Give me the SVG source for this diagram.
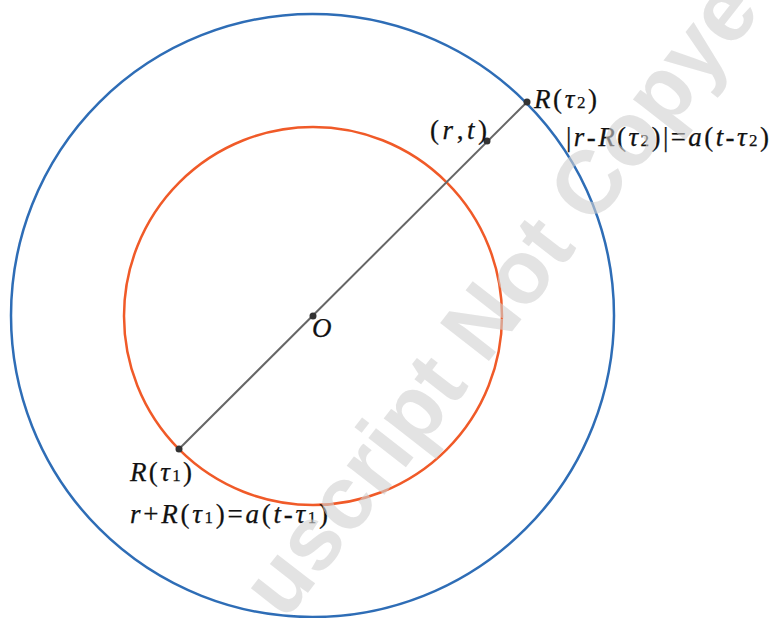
<svg xmlns="http://www.w3.org/2000/svg" width="771" height="618" viewBox="0 0 771 618">
<style>
  text.lbl { font-size: 27px; fill: #111111; stroke: #111111; stroke-width: 0.25px; }
  tspan.it, text.it { font-style: italic; }
  tspan.sub { font-size: 17px; }
  .dot { fill: #333333; }
  text.wm { font-weight: bold; font-size: 90px; fill: #d0d0d0; fill-opacity: 0.6; }
</style>
<rect x="0" y="0" width="771" height="618" fill="#ffffff"/>
<g id="outer-circle">
  <circle cx="312.5" cy="315.5" r="301.5" fill="none" stroke="#2e6db6" stroke-width="2.5"/>
</g>
<g id="inner-circle">
  <circle cx="313" cy="316" r="189" fill="none" stroke="#f05a28" stroke-width="2.5"/>
</g>
<g id="connectors">
  <line x1="179" y1="449" x2="527" y2="102" stroke="#666666" stroke-width="2"/>
</g>
<g id="node-R-tau1" font-family="Liberation Serif">
  <circle class="dot" cx="179" cy="449" r="3.5"/>
  <text class="lbl" x="130" y="481" textLength="62" lengthAdjust="spacing"><tspan class="it">R</tspan>(<tspan class="it">τ</tspan><tspan class="sub">1</tspan>)</text>
  <text class="lbl" x="130" y="523" textLength="198" lengthAdjust="spacing"><tspan class="it">r</tspan>+<tspan class="it">R</tspan>(<tspan class="it">τ</tspan><tspan class="sub">1</tspan>)=<tspan class="it">a</tspan>(<tspan class="it">t</tspan>-<tspan class="it">τ</tspan><tspan class="sub">1</tspan>)</text>
</g>
<g id="node-O" font-family="Liberation Serif">
  <circle class="dot" cx="313" cy="316" r="3.5"/>
  <text class="lbl it" x="312" y="337">O</text>
</g>
<g id="node-rt" font-family="Liberation Serif">
  <circle class="dot" cx="487" cy="141" r="3.5"/>
  <text class="lbl" x="430" y="139" textLength="57" lengthAdjust="spacing">(<tspan class="it">r</tspan>,<tspan class="it">t</tspan>)</text>
</g>
<g id="node-R-tau2" font-family="Liberation Serif">
  <circle class="dot" cx="527" cy="102" r="3.5"/>
  <text class="lbl" x="534" y="108" textLength="63" lengthAdjust="spacing"><tspan class="it">R</tspan>(<tspan class="it">τ</tspan><tspan class="sub">2</tspan>)</text>
  <text class="lbl" x="566" y="146" textLength="203" lengthAdjust="spacing">|<tspan class="it">r</tspan>-<tspan class="it">R</tspan>(<tspan class="it">τ</tspan><tspan class="sub">2</tspan>)|=<tspan class="it">a</tspan>(<tspan class="it">t</tspan>-<tspan class="it">τ</tspan><tspan class="sub">2</tspan>)</text>
</g>
<text class="wm" font-family="Liberation Sans" transform="translate(285,622) rotate(-52)">uscript Not Copye</text>
</svg>
